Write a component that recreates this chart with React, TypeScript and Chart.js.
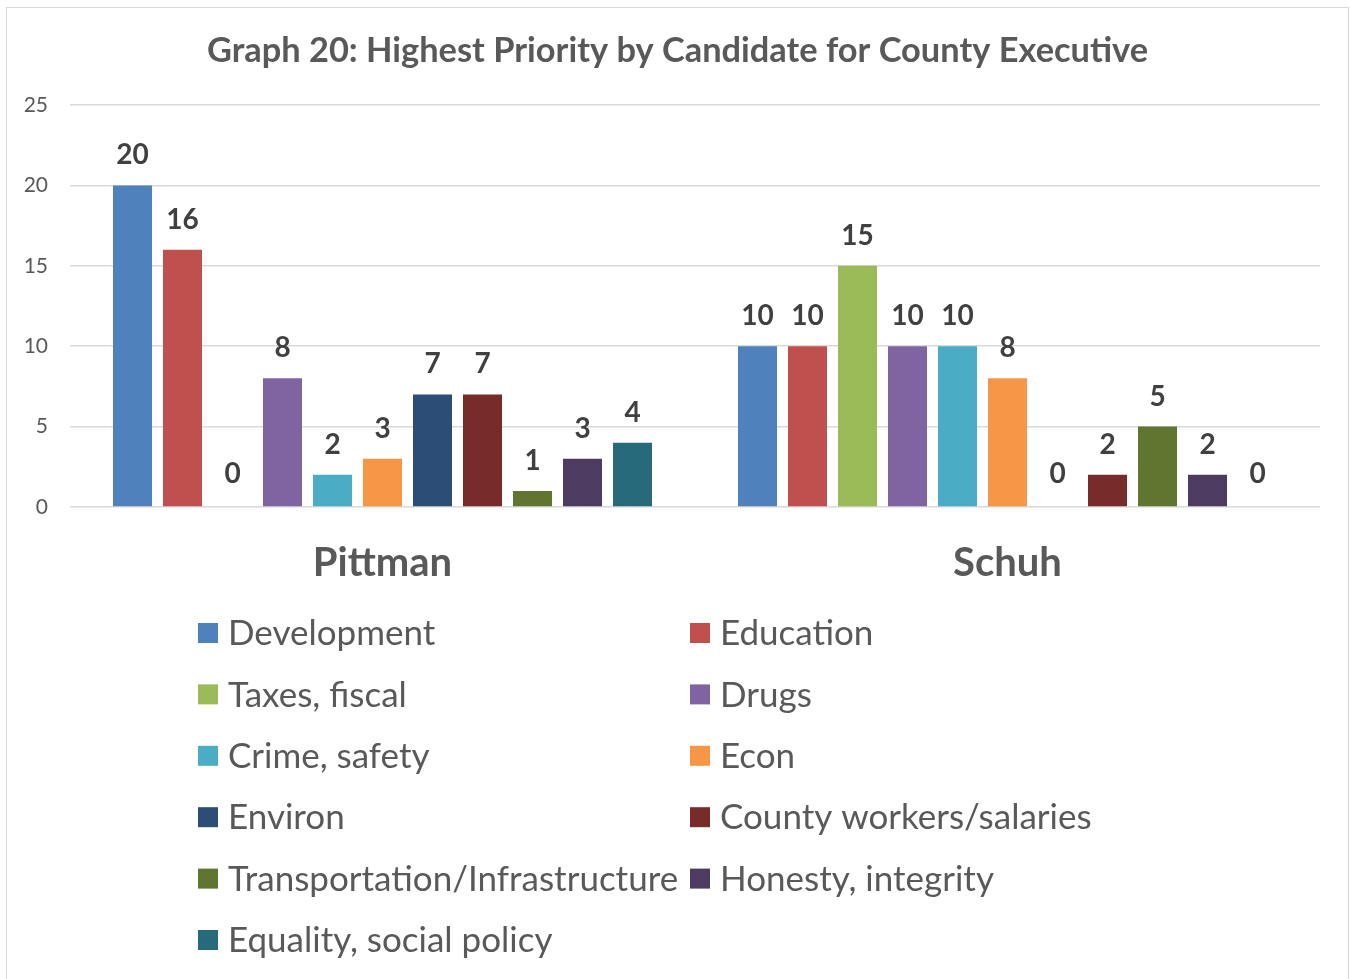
import React, { useEffect, useRef } from "react";
import { Chart, registerables } from "chart.js";

Chart.register(...registerables);

const titleText = "Graph 20: Highest Priority by Candidate for County Executive";
const candidates = ["Pittman", "Schuh"];
const priorities = [
  "Development",
  "Education",
  "Taxes, fiscal",
  "Drugs",
  "Crime, safety",
  "Econ",
  "Environ",
  "County workers/salaries",
  "Transportation/Infrastructure",
  "Honesty, integrity",
  "Equality, social policy",
];
const colors = [
  "#4F81BD",
  "#C0504D",
  "#9BBB59",
  "#8064A2",
  "#4BACC6",
  "#F79646",
  "#2C4D75",
  "#772C2A",
  "#5F7530",
  "#4D3B62",
  "#276A7C",
];
const pittmanValues = [20, 16, 0, 8, 2, 3, 7, 7, 1, 3, 4];
const schuhValues = [10, 10, 15, 10, 10, 8, 0, 2, 5, 2, 0];
const yTicks = [0, 5, 10, 15, 20, 25];

const FONT = "Lato, 'Open Sans', sans-serif";

const titlePlugin = {
  id: "centeredTitle",
  afterDraw(chart: any) {
    const ctx = chart.ctx;
    ctx.save();
    ctx.font = `bold 34.4px ${FONT}`;
    ctx.fillStyle = "#595959";
    ctx.textAlign = "center";
    ctx.textBaseline = "middle";
    ctx.fillText(titleText, 677.5, 51);
    ctx.restore();
  },
};

const valueLabels = {
  id: "valueLabels",
  afterDatasetsDraw(chart: any) {
    const ctx = chart.ctx;
    ctx.save();
    ctx.font = `bold 28px ${FONT}`;
    ctx.fillStyle = "#404040";
    ctx.textAlign = "center";
    ctx.textBaseline = "middle";
    chart.data.datasets.forEach((ds: any, di: number) => {
      const meta = chart.getDatasetMeta(di);
      meta.data.forEach((bar: any, i: number) => {
        const v = ds.data[i];
        ctx.fillText(String(v), bar.x, bar.y - (v === 0 ? 33 : 30));
      });
    });
    ctx.restore();
  },
};

const twoColLegend = {
  id: "twoColLegend",
  afterDraw(chart: any) {
    const ctx = chart.ctx;
    ctx.save();
    ctx.font = `35px ${FONT}`;
    ctx.textBaseline = "middle";
    ctx.textAlign = "left";
    const colX = [198, 690];
    const row0 = 633;
    const rowH = 61.4;
    chart.data.datasets.forEach((ds: any, i: number) => {
      const col = i % 2;
      const row = Math.floor(i / 2);
      const x = colX[col];
      const y = row0 + row * rowH;
      ctx.fillStyle = ds.backgroundColor;
      ctx.fillRect(x, y - 10, 20, 20);
      ctx.fillStyle = "#595959";
      ctx.fillText(ds.label, x + 30, y + 1);
    });
    ctx.restore();
  },
};

export default function App() {
  const ref = useRef<HTMLCanvasElement | null>(null);

  useEffect(() => {
    if (!ref.current) return;
    const chart = new Chart(ref.current, {
      type: "bar",
      data: {
        labels: candidates,
        datasets: priorities.map((p, i) => ({
          label: p,
          data: [pittmanValues[i], schuhValues[i]],
          backgroundColor: colors[i],
          categoryPercentage: 0.88,
          barPercentage: 0.78,
        })),
      },
      options: {
        animation: false,
        responsive: false,
        maintainAspectRatio: false,
        layout: { padding: { left: 8, right: 31, top: 105, bottom: 392 } },
        plugins: {
          legend: { display: false },
          tooltip: { enabled: false },
          title: { display: false },
        },
        scales: {
          x: {
            grid: { display: false },
            border: { display: false },
            ticks: {
              color: "#595959",
              font: { family: FONT, size: 40, weight: "bold" },
              padding: 24,
            },
            afterFit: (s: any) => {
              s.height = 80;
            },
          },
          y: {
            min: 0,
            max: 25,
            afterBuildTicks: (s: any) => {
              s.ticks = yTicks.map((v) => ({ value: v }));
            },
            grid: { color: "#d9d9d9", lineWidth: 1.5, drawTicks: false },
            border: { display: false },
            ticks: {
              color: "#595959",
              font: { family: FONT, size: 21 },
              padding: 22,
            },
            afterFit: (s: any) => {
              s.width = 62;
            },
          },
        },
      },
      plugins: [valueLabels, twoColLegend, titlePlugin],
    });
    return () => chart.destroy();
  }, []);

  return (
    <div
      style={{
        position: "absolute",
        left: 0,
        top: 0,
        width: 1351,
        height: 979,
        background: "#fff",
        overflow: "hidden",
      }}
    >
      <div
        style={{
          position: "absolute",
          left: 6,
          top: 7,
          width: 1341,
          height: 1000,
          border: "1px solid #d9d9d9",
        }}
      />
      <canvas
        ref={ref}
        width={1351}
        height={979}
        style={{ position: "absolute", left: 0, top: 0 }}
      />
    </div>
  );
}
